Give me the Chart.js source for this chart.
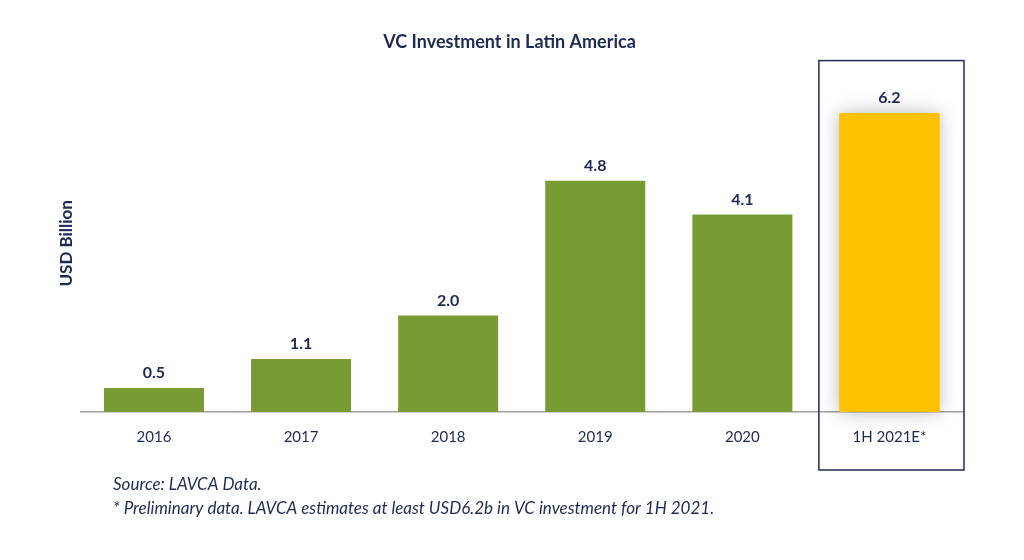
<!DOCTYPE html>
<html lang="en">
<head>
    <meta charset="UTF-8">
    <title>VC Investment in Latin America</title>
    <style>
        body { margin: 0; background: #fff; }
        #wrap { width: 1024px; height: 560px; }
    </style>
</head>
<body>
    <div id="wrap"><canvas id="vcChart" width="1024" height="560"></canvas></div>

    <script src="https://cdn.jsdelivr.net/npm/chart.js"></script>
    <script>
        const categories = ['2016', '2017', '2018', '2019', '2020', '1H 2021E*'];
        const investment = [0.5, 1.1, 2.0, 4.8, 4.1, 6.2];
        const barColors = ['#789b33', '#789b33', '#789b33', '#789b33', '#789b33', '#ffc000'];
        const footnotes = [
            'Source: LAVCA Data.',
            '* Preliminary data. LAVCA estimates at least USD6.2b in VC investment for 1H 2021.'
        ];

        const NAVY = '#1c2a55';
        const FONT = 'Lato, "Open Sans", sans-serif';

        // soft shadow behind the highlighted (last) bar
        const shadowPlugin = {
            id: 'shadow',
            beforeDatasetsDraw(chart) {
                const bar = chart.getDatasetMeta(0).data[investment.length - 1];
                const ctx = chart.ctx;
                ctx.save();
                ctx.shadowColor = 'rgba(0,0,0,0.28)';
                ctx.shadowBlur = 18;
                ctx.fillStyle = barColors[barColors.length - 1];
                ctx.fillRect(bar.x - bar.width / 2, bar.y, bar.width, bar.base - bar.y);
                ctx.restore();
            }
        };

        // value labels, frame around the estimate, footnotes
        const decorPlugin = {
            id: 'decor',
            afterDatasetsDraw(chart) {
                const ctx = chart.ctx;
                const meta = chart.getDatasetMeta(0);
                ctx.save();
                ctx.fillStyle = NAVY;
                ctx.font = 'bold 16px ' + FONT;
                ctx.textAlign = 'center';
                ctx.textBaseline = 'bottom';
                meta.data.forEach((bar, i) => {
                    ctx.fillText(investment[i].toFixed(1), bar.x, bar.y - 7);
                });

                // frame around the last category
                const x = chart.scales.x;
                const step = x.width / categories.length;
                const cx = x.getPixelForValue(categories.length - 1);
                ctx.strokeStyle = NAVY;
                ctx.lineWidth = 1.5;
                ctx.strokeRect(cx - step / 2 + 3, chart.chartArea.top - 14, step - 2, chart.chartArea.bottom - chart.chartArea.top + 72);

                ctx.font = 'italic 17px ' + FONT;
                ctx.textAlign = 'left';
                ctx.textBaseline = 'middle';
                footnotes.forEach((t, i) => {
                    ctx.fillText(t, 113, chart.chartArea.bottom + 73 + i * 24);
                });
                ctx.restore();
            }
        };

        new Chart(document.getElementById('vcChart'), {
            type: 'bar',
            data: {
                labels: categories,
                datasets: [{
                    data: investment,
                    backgroundColor: barColors,
                    barPercentage: 0.68,
                    categoryPercentage: 1.0
                }]
            },
            options: {
                responsive: false,
                animation: false,
                layout: { padding: { left: 56, right: 61, top: 0, bottom: 98 } },
                plugins: {
                    legend: { display: false },
                    tooltip: { enabled: false },
                    title: {
                        display: true,
                        text: 'VC Investment in Latin America',
                        color: NAVY,
                        font: { family: FONT, size: 18, weight: 'bold' },
                        padding: { top: 31, bottom: 22 }
                    }
                },
                scales: {
                    x: {
                        grid: { display: false, drawTicks: false },
                        border: { color: '#a0a0a0', width: 1.5 },
                        ticks: { color: NAVY, font: { family: FONT, size: 15 }, padding: 16 }
                    },
                    y: {
                        min: 0,
                        max: 7,
                        grid: { display: false, drawTicks: false },
                        border: { display: false },
                        ticks: { display: false },
                        title: {
                            display: true,
                            text: 'USD Billion',
                            color: NAVY,
                            font: { family: FONT, size: 17, weight: 'bold' },
                            padding: { top: 0, bottom: 4 }
                        }
                    }
                }
            },
            plugins: [shadowPlugin, decorPlugin]
        });
    </script>
</body>
</html>
